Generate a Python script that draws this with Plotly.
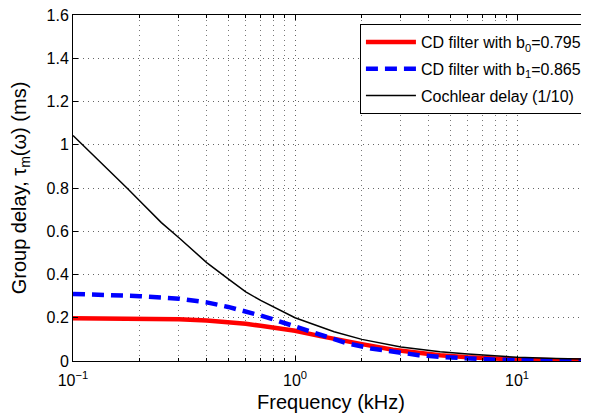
import plotly.graph_objects as go

# Frequency (kHz) and group delays (ms)
freq_black = [0.1, 0.125, 0.15, 0.175, 0.2, 0.25, 0.3, 0.4, 0.5, 0.6, 0.7, 0.8, 1.0, 1.5, 2.0, 3.0, 4.5, 6.0, 8.0, 10.0, 15.0, 21.5]
delay_cochlear = [1.043, 0.946, 0.87, 0.80, 0.74, 0.64, 0.57, 0.455, 0.38, 0.32, 0.28, 0.25, 0.20, 0.135, 0.100, 0.065, 0.043, 0.032, 0.022, 0.017, 0.011, 0.008]

freq_red = [0.1, 0.2, 0.3, 0.4, 0.5, 0.6, 0.7, 0.8, 1.0, 1.3, 1.65, 2.0, 2.76, 3.5, 4.5, 6.0, 8.0, 10.0, 15.0, 21.5]
delay_b0 = [0.198, 0.197, 0.193, 0.187, 0.180, 0.172, 0.163, 0.155, 0.140, 0.115, 0.092, 0.078, 0.052, 0.038, 0.027, 0.017, 0.010, 0.007, 0.004, 0.003]

freq_blue = [0.1, 0.15, 0.2, 0.3, 0.4, 0.5, 0.6, 0.7, 0.8, 1.0, 1.2, 1.4, 1.7, 2.2, 2.7, 3.6, 4.5, 6.0, 8.0, 10.0, 15.0, 21.5]
delay_b1 = [0.310, 0.306, 0.300, 0.288, 0.271, 0.250, 0.230, 0.210, 0.192, 0.160, 0.130, 0.108, 0.083, 0.058, 0.043, 0.027, 0.019, 0.011, 0.006, 0.004, 0.002, 0.001]

x_tickvals = [0.1, 1, 10]
x_ticktext = ["10<sup>−1</sup>", "10<sup>0</sup>", "10<sup>1</sup>"]
y_tickvals = [0, 0.2, 0.4, 0.6, 0.8, 1.0, 1.2, 1.4, 1.6]
y_ticktext = ["0", "0.2", "0.4", "0.6", "0.8", "1", "1.2", "1.4", "1.6"]

fig = go.Figure()
fig.add_trace(go.Scatter(x=freq_red, y=delay_b0, mode="lines",
                         name="CD filter with b<sub>0</sub>=0.795", legendgroup="a",
                         line=dict(color="#ff0000", width=4.5)))
fig.add_trace(go.Scatter(x=freq_blue, y=delay_b1, mode="lines",
                         name="CD filter with b<sub>1</sub>=0.865", legendgroup="b",
                         line=dict(color="#0000ff", width=4.5, dash="12px,7px")))
fig.add_trace(go.Scatter(x=freq_black, y=delay_cochlear, mode="lines",
                         name="Cochlear delay (1/10)", legendgroup="c",
                         line=dict(color="#000000", width=1.5)))

font_family = "Liberation Sans, Arial, Helvetica, sans-serif"
grid_dash = "1px,4px"

# page body has an 8px default margin: size the figure so it ends at 589x414
fig.update_layout(
    width=581, height=406,
    margin=dict(l=65, r=0, t=7, b=53, autoexpand=False),
    paper_bgcolor="white", plot_bgcolor="white",
    font=dict(family=font_family, size=16, color="black"),
    showlegend=True,
    legend=dict(x=0.996, y=0.974, xanchor="right", yanchor="top",
                bordercolor="black", borderwidth=1, bgcolor="white",
                font=dict(size=16), traceorder="grouped", tracegroupgap=3,
                itemwidth=50),
)

fig.update_xaxes(
    type="log", range=[-1, 1.324], automargin=False,
    tickvals=x_tickvals, ticktext=x_ticktext,
    ticks="inside", ticklen=5, tickcolor="black",
    showline=True, linecolor="black", linewidth=1, mirror="ticks",
    showgrid=True, gridcolor="#666666", griddash=grid_dash, gridwidth=1,
    minor=dict(dtick="D1", ticks="inside", ticklen=3, tickcolor="black",
               showgrid=True, gridcolor="#777777", griddash=grid_dash, gridwidth=1),
    zeroline=False, ticklabeloverflow="allow", ticklabelstandoff=5,
    title=dict(text="Frequency (kHz)", font=dict(size=20), standoff=6),
    tickfont=dict(size=16),
)
fig.update_yaxes(
    range=[0, 1.6], automargin=False,
    tickvals=y_tickvals, ticktext=y_ticktext,
    ticks="inside", ticklen=5, tickcolor="black",
    showline=True, linecolor="black", linewidth=1, mirror=False,
    showgrid=True, gridcolor="#666666", griddash=grid_dash, gridwidth=1,
    zeroline=False, ticklabeloverflow="allow",
    title=dict(text="Group delay, τ<sub>m</sub>(ω) (ms)", font=dict(size=20)),
    tickfont=dict(size=16),
)

fig.write_html("out.html")
